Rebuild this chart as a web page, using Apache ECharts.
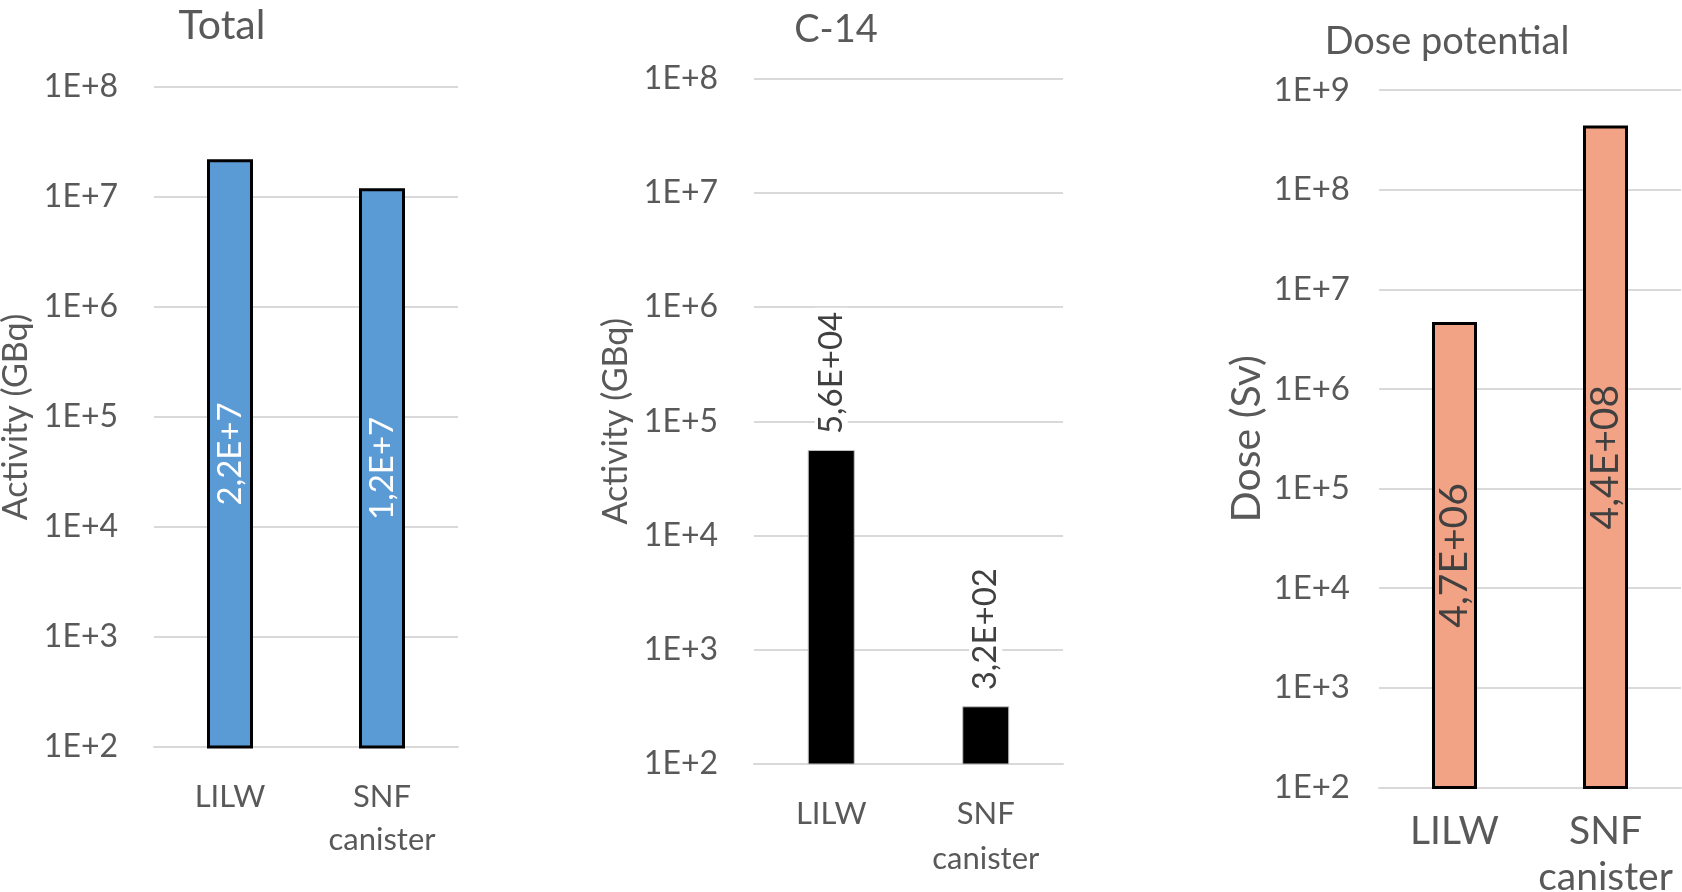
<!DOCTYPE html>
<html>
<head>
<meta charset="utf-8">
<script src="https://cdn.jsdelivr.net/npm/echarts@6/dist/echarts.min.js"></script>
<style>
  html, body { margin: 0; padding: 0; background: #ffffff; }
  #chart { width: 1682px; height: 892px; }
</style>
</head>
<body>
<div id="chart"></div>
<script>
// ---- Data ----
const categories = ['LILW', 'SNF\ncanister'];
const totalActivity = [2.2e7, 1.2e7];      // GBq
const c14Activity = [5.6e4, 3.2e2];        // GBq
const dosePotential = [4.7e6, 4.4e8];      // Sv
const panelTitles = ['Total', 'C-14', 'Dose potential'];
const yAxisNames = ['Activity (GBq)', 'Activity (GBq)', 'Dose (Sv)'];
const yMin = [1e2, 1e2, 1e2];
const yMax = [1e8, 1e8, 1e9];

// ---- Helpers ----
function expOf(v) { return Math.floor(Math.log10(v) + 1e-9); }
function fmtShort(v) {
  const e = expOf(v);
  return (v / Math.pow(10, e)).toFixed(1).replace('.', ',') + 'E+' + e;
}
function fmtLong(v) {
  const e = expOf(v);
  return (v / Math.pow(10, e)).toFixed(1).replace('.', ',') + 'E+' + String(e).padStart(2, '0');
}
function tickFmt(v) { return '1E+' + Math.round(Math.log10(v)); }

const FONT = 'Lato';
const GREY = '#595959';

const grids = [
  { left: 154, top: 87, width: 304, height: 660, outerBoundsMode: 'none', containLabel: false },
  { left: 754, top: 78.5, width: 309, height: 685.5, outerBoundsMode: 'none', containLabel: false },
  { left: 1379, top: 90, width: 302, height: 697.4, outerBoundsMode: 'none', containLabel: false }
];
const tickFont = [32, 32, 33];
const tickMargin = [36, 36, 29];
const catFont = [31, 31, 39];
const catLine = [43, 45, 46];
const catMargin = [28, 27, 21];
const nameFont = [34, 34, 41];
const nameGap = [121, 121, 112];

const option = {
  animation: false,
  backgroundColor: '#ffffff',
  title: [
    { text: panelTitles[0], left: 217, top: 0, textAlign: 'center',
      textStyle: { fontFamily: FONT, fontSize: 41, fontWeight: 'normal', color: GREY } },
    { text: panelTitles[1], left: 831, top: 6, textAlign: 'center',
      textStyle: { fontFamily: FONT, fontSize: 38, fontWeight: 'normal', color: GREY } },
    { text: panelTitles[2], left: 1442, top: 18, textAlign: 'center',
      textStyle: { fontFamily: FONT, fontSize: 38, fontWeight: 'normal', color: GREY } }
  ],
  grid: grids,
  xAxis: [0, 1, 2].map(i => ({
    type: 'category',
    gridIndex: i,
    data: categories,
    axisLine: { show: true, lineStyle: { color: '#d9d9d9', width: 2 } },
    axisTick: { show: false },
    axisLabel: {
      fontFamily: FONT, fontSize: catFont[i], lineHeight: catLine[i],
      color: GREY, margin: catMargin[i], interval: 0
    }
  })),
  yAxis: [0, 1, 2].map(i => ({
    type: 'log',
    logBase: 10,
    gridIndex: i,
    min: yMin[i],
    max: yMax[i],
    splitNumber: Math.round(Math.log10(yMax[i] / yMin[i])),
    name: yAxisNames[i],
    nameLocation: 'middle',
    nameGap: nameGap[i],
    nameRotate: 90,
    nameTextStyle: { fontFamily: FONT, fontSize: nameFont[i], color: GREY },
    axisLine: { show: false },
    axisTick: { show: false },
    axisLabel: {
      formatter: tickFmt, fontFamily: FONT, fontSize: tickFont[i],
      color: GREY, margin: tickMargin[i]
    },
    splitLine: { show: true, lineStyle: { color: '#d9d9d9', width: 2 } }
  })),
  series: [
    {
      type: 'bar', xAxisIndex: 0, yAxisIndex: 0,
      data: totalActivity, barWidth: 46, clip: true,
      itemStyle: { color: '#5B9BD5', borderColor: '#000000', borderWidth: 3 },
      label: {
        show: true, position: 'inside', rotate: 90,
        formatter: p => fmtShort(p.value),
        fontFamily: FONT, fontSize: 33, color: '#ffffff'
      }
    },
    {
      type: 'bar', xAxisIndex: 1, yAxisIndex: 1,
      data: c14Activity, barWidth: 47, clip: true,
      itemStyle: { color: '#000000', borderColor: '#bfbfbf', borderWidth: 1 },
      label: {
        show: true, position: 'top', rotate: 90, distance: 12,
        align: 'left', verticalAlign: 'middle',
        backgroundColor: '#ffffff', padding: [0, 4, 0, 4],
        formatter: p => fmtLong(p.value),
        fontFamily: FONT, fontSize: 33, color: '#404040'
      }
    },
    {
      type: 'bar', xAxisIndex: 2, yAxisIndex: 2,
      data: dosePotential, barWidth: 45, clip: true,
      itemStyle: { color: '#F2A386', borderColor: '#000000', borderWidth: 3 },
      label: {
        show: true, position: 'inside', rotate: 90,
        formatter: p => fmtLong(p.value),
        fontFamily: FONT, fontSize: 39, color: '#404040'
      }
    }
  ]
};

const chart = echarts.init(document.getElementById('chart'), null, { renderer: 'canvas' });
chart.setOption(option);
</script>
</body>
</html>
